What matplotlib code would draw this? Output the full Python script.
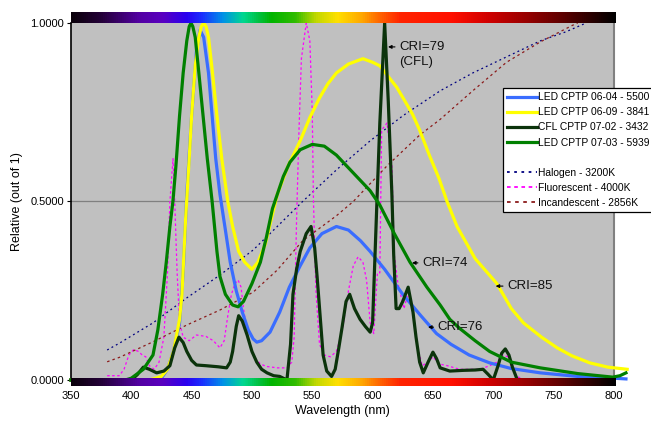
import numpy as np
import matplotlib
matplotlib.use("Agg")
import matplotlib.pyplot as plt
from matplotlib.colors import LinearSegmentedColormap
from matplotlib.lines import Line2D

plt.rcParams["font.family"] = ["Liberation Sans", "DejaVu Sans"]

# measured spectra (wavelength nm, relative intensity)
led0604_wl = [350, 420, 425, 430, 435, 440, 443, 446, 450, 454, 457, 460, 464, 467, 470, 473.5, 478, 482, 487, 492,
              497, 501, 504, 508, 515, 523, 531, 540, 548, 558, 570, 580, 590, 598, 610, 625, 640, 653, 665, 680,
              697, 715, 739, 770, 800, 810]
led0604_y = [0, 0, 0.005, 0.03, 0.08, 0.16, 0.3, 0.52, 0.74, 0.92, 0.98, 0.96, 0.86, 0.74, 0.62, 0.52, 0.42, 0.33, 0.25,
             0.19, 0.14, 0.115, 0.106, 0.11, 0.134, 0.19, 0.26, 0.32, 0.37, 0.41, 0.43, 0.42, 0.39, 0.36, 0.31, 0.24,
             0.18, 0.13, 0.1, 0.07, 0.048, 0.032, 0.02, 0.01, 0.005, 0.003]

led0609_wl = [350, 415, 425, 430, 435, 440, 442, 445, 448, 450, 453, 456, 458, 460, 462, 464, 467, 471, 475, 480, 484,
              489, 494, 500, 505, 511, 516, 521, 530, 540, 548, 556, 563, 570, 580, 592, 600, 606, 613, 620, 627, 633,
              639, 647, 655, 661.7, 670, 685, 703, 715, 725, 740, 753, 765, 780, 795, 811]
led0609_y = [0, 0, 0.01, 0.03, 0.08, 0.17, 0.24, 0.45, 0.62, 0.74, 0.88, 0.96, 0.99, 1.0, 0.99, 0.96, 0.87, 0.74, 0.62,
             0.5, 0.43, 0.36, 0.33, 0.31, 0.33, 0.38, 0.45, 0.52, 0.6, 0.67, 0.735, 0.79, 0.83, 0.86, 0.885, 0.9,
             0.89, 0.88, 0.85, 0.82, 0.78, 0.745, 0.7, 0.63, 0.565, 0.5, 0.43, 0.34, 0.27, 0.2, 0.16, 0.12, 0.09,
             0.068, 0.048, 0.036, 0.03]

cfl0702_wl = [350, 400, 405, 410, 415, 421, 427, 432, 436, 439.5, 443, 446, 450, 454, 462, 472, 479, 482, 484, 487,
              489, 492, 496, 500, 504, 508, 512.5, 518, 523, 529, 532, 534, 537, 540, 545, 549, 552, 554, 556.5, 559,
              562, 566, 569, 572, 574.6, 578, 581, 585, 589.6, 594, 598, 600, 603.6, 606, 610, 613, 616, 617.5,
              619.5, 622, 625, 629.5, 633.5, 636, 639, 642, 646, 650, 653, 656, 664, 675, 685, 691.6, 696, 700,
              704, 707, 710, 713, 716, 720]
cfl0702_y = [0, 0, 0.015, 0.036, 0.03, 0.02, 0.025, 0.04, 0.09, 0.12, 0.105, 0.08, 0.055, 0.042, 0.04, 0.037, 0.034,
             0.05, 0.08, 0.15, 0.18, 0.165, 0.126, 0.08, 0.05, 0.03, 0.02, 0.012, 0.01, 0.0, 0.1, 0.24, 0.31, 0.36,
             0.41, 0.43, 0.37, 0.29, 0.18, 0.07, 0.025, 0.01, 0.03, 0.09, 0.145, 0.22, 0.24, 0.2, 0.17, 0.15, 0.134,
             0.16, 0.5, 0.72, 1.0, 0.78, 0.52, 0.35, 0.2, 0.2, 0.22, 0.26, 0.19, 0.12, 0.05, 0.02, 0.05, 0.078, 0.06,
             0.034, 0.025, 0.027, 0.028, 0.03, 0.015, 0.0, 0.04, 0.075, 0.087, 0.07, 0.035, 0.0]

led0703_wl = [350, 395, 400, 410, 418, 422, 426, 429, 432, 434.5, 437, 440, 443, 446, 448, 449.5, 451, 453, 456, 459.5,
              463, 467, 469, 471, 473.5, 478, 484, 488.5, 493, 500, 507, 512, 517, 521, 526, 531.5, 540, 550, 560,
              570, 584, 598, 606, 618, 631, 645, 656, 664, 672, 685, 697, 715, 739, 770, 799, 805, 810]
led0703_y = [0, 0, 0.005, 0.03, 0.07, 0.14, 0.24, 0.33, 0.43, 0.5, 0.6, 0.74, 0.86, 0.95, 0.99, 1.0, 0.99, 0.96, 0.86,
             0.74, 0.62, 0.5, 0.43, 0.36, 0.29, 0.24, 0.21, 0.205, 0.22, 0.27, 0.33, 0.4, 0.48, 0.52, 0.57, 0.61,
             0.645, 0.66, 0.655, 0.63, 0.58, 0.53, 0.49, 0.41, 0.33, 0.26, 0.21, 0.17, 0.145, 0.11, 0.08, 0.05,
             0.034, 0.018, 0.008, 0.012, 0.02]

# reference sources
halogen_wl = [380, 390.6, 418, 446, 473.5, 501, 521, 542, 570.5, 598, 625, 656, 683, 711, 739, 760, 777]
halogen_y = [0.084, 0.104, 0.16, 0.23, 0.294, 0.364, 0.43, 0.5, 0.59, 0.67, 0.74, 0.81, 0.86, 0.905, 0.95, 0.975, 1.0]

fluor_wl = [380, 390, 394, 398, 402, 406, 409, 412, 415, 419, 423, 427, 430, 432, 434.6, 436, 438, 440, 443, 448, 454,
            462, 468, 473.5, 477, 480, 483, 486, 488.5, 491, 493, 496.7, 500, 503, 507, 512, 521, 529, 533, 535, 537,
            539, 541, 545, 548, 550, 551, 553, 556, 560, 565, 570, 575, 580, 584, 588, 592, 595, 598, 601, 604, 606,
            607.5, 612, 616, 618, 621, 626, 630, 634, 637, 641, 646, 650, 655, 662, 672, 689, 697, 703, 708, 712,
            716, 720, 725]
fluor_y = [0.012, 0.012, 0.03, 0.07, 0.085, 0.08, 0.07, 0.065, 0.04, 0.03, 0.05, 0.12, 0.3, 0.5, 0.62, 0.5, 0.3, 0.16,
           0.12, 0.11, 0.126, 0.122, 0.11, 0.09, 0.11, 0.18, 0.24, 0.27, 0.28, 0.26, 0.2, 0.12, 0.08, 0.06, 0.045,
           0.038, 0.034, 0.034, 0.05, 0.12, 0.45, 0.7, 0.9, 1.0, 0.95, 0.75, 0.5, 0.25, 0.1, 0.07, 0.065, 0.08, 0.14,
           0.25, 0.32, 0.345, 0.33, 0.28, 0.16, 0.13, 0.3, 0.3, 0.7, 0.72, 0.6, 0.35, 0.27, 0.2, 0.25, 0.18, 0.1,
           0.04, 0.05, 0.065, 0.045, 0.04, 0.03, 0.03, 0.04, 0.05, 0.07, 0.065, 0.03, 0.01, 0.0]

incand_wl = [380, 390.6, 418, 446, 473.5, 501, 521, 542, 570, 584, 612, 639, 656, 683, 711, 739, 766, 770]
incand_y = [0.051, 0.064, 0.107, 0.154, 0.196, 0.246, 0.308, 0.39, 0.46, 0.5, 0.6, 0.686, 0.73, 0.81, 0.89, 0.947,
            0.994, 1.0]

solid = [("LED CPTP 06-04 - 5500", led0604_wl, led0604_y, "#3a6dff"),
         ("LED CPTP 06-09 - 3841", led0609_wl, led0609_y, "#ffff00"),
         ("CFL CPTP 07-02 - 3432", cfl0702_wl, cfl0702_y, "#0b330b"),
         ("LED CPTP 07-03 - 5939", led0703_wl, led0703_y, "#008000")]
refs = [("Halogen - 3200K", halogen_wl, halogen_y, "#000080", (0, (1.5, 2.5))),
        ("Fluorescent - 4000K", fluor_wl, fluor_y, "#ff00ff", (0, (2, 2))),
        ("Incandescent - 2856K", incand_wl, incand_y, "#8b1a1a", (0, (2, 2.5)))]

# (label text, arrow tip, text position)
cri_notes = [("CRI=79", (612.8, 0.933), (622, 0.933)),
             ("CRI=74", (632.7, 0.328), (641, 0.328)),
             ("CRI=85", (702, 0.263), (711.5, 0.263)),
             ("CRI=76", (646, 0.148), (654, 0.148))]

spectrum_stops = [(350, "#0a000a"), (375, "#25003a"), (405, "#5200a0"), (425, "#5a00c0"), (445, "#2a00f0"),
                  (458, "#1a30ff"), (475, "#0090e8"), (492, "#00d890"), (505, "#00c040"), (515, "#00b400"),
                  (535, "#30bc00"), (552, "#c0d800"), (570, "#ffe000"), (590, "#ffa800"), (606, "#ff6000"),
                  (622, "#ff2400"), (665, "#ff1000"), (695, "#d00000"), (722, "#a00000"), (755, "#600000"),
                  (785, "#200000"), (800, "#000000")]

fig = plt.figure(figsize=(6.51, 4.21), dpi=100)
ax = fig.add_axes([0.109, 0.0974, 0.834, 0.848])
ax.set_facecolor("#c0c0c0")

for lab, wl, y, c in solid:
    ax.plot(wl, y, color=c, lw=2.3, clip_on=False, zorder=3, solid_joinstyle="round")
for lab, wl, y, c, ls in refs:
    ax.plot(wl, y, color=c, lw=0.9, ls=ls, clip_on=False, zorder=2)

ax.axhline(0.5, color="#808080", lw=0.9, zorder=1)
ax.set_xlim(350, 800)
ax.set_ylim(0, 1)
ax.set_xticks(range(350, 801, 50))
ax.set_yticks([0, 0.5, 1.0])
ax.set_yticklabels([f"{v:.4f}" for v in [0, 0.5, 1.0]])
ax.tick_params(axis="x", length=0, pad=8, labelsize=8)
ax.tick_params(axis="y", length=3, pad=2, labelsize=8, direction="out")
for s in ["top", "bottom"]:
    ax.spines[s].set_visible(False)
ax.spines["right"].set_color("#808080")
ax.spines["right"].set_linewidth(1.5)
ax.spines["left"].set_linewidth(1.2)
ax.set_xlabel("Wavelength (nm)", fontsize=9, labelpad=3)
ax.set_ylabel("Relative (out of 1)", fontsize=9, labelpad=5)

for txt, tip, pos in cri_notes:
    ax.annotate(txt, xy=tip, xytext=pos, fontsize=9.5, va="center", ha="left", color="#111111",
                arrowprops=dict(arrowstyle="-|>", color="black", lw=0.8, mutation_scale=5, shrinkA=1, shrinkB=0))
ax.text(622, 0.89, "(CFL)", fontsize=9.5, va="center", ha="left", color="#111111")

handles = [Line2D([], [], color=c, lw=2.3) for _, _, _, c in solid]
labels = [lab for lab, _, _, _ in solid]
handles.append(Line2D([], [], color="none"))
labels.append(" ")
handles += [Line2D([], [], color=c, lw=1.3, ls=ls) for _, _, _, c, ls in refs]
labels += [lab for lab, _, _, _, _ in refs]
leg = fig.legend(handles, labels, loc="upper left", bbox_to_anchor=(0.7727, 0.791), fontsize=7.4,
                 frameon=True, fancybox=False, edgecolor="black", framealpha=1, handlelength=2.9,
                 handletextpad=0.1, labelspacing=0.5, borderpad=0.4, borderaxespad=0)
leg.get_frame().set_linewidth(0.9)

# spectrum colour bars
cmap = LinearSegmentedColormap.from_list(
    "spec", [((w - 350) / 450, c) for w, c in spectrum_stops])
grad = np.linspace(0, 1, 512)[None, :]
for rect in ([0.109, 0.945, 0.836, 0.027], [0.109, 0.083, 0.836, 0.018]):
    bar = fig.add_axes(rect)
    bar.imshow(grad, aspect="auto", cmap=cmap, extent=[0, 1, 0, 1])
    bar.set_axis_off()

fig.savefig("out.png", dpi=100)
